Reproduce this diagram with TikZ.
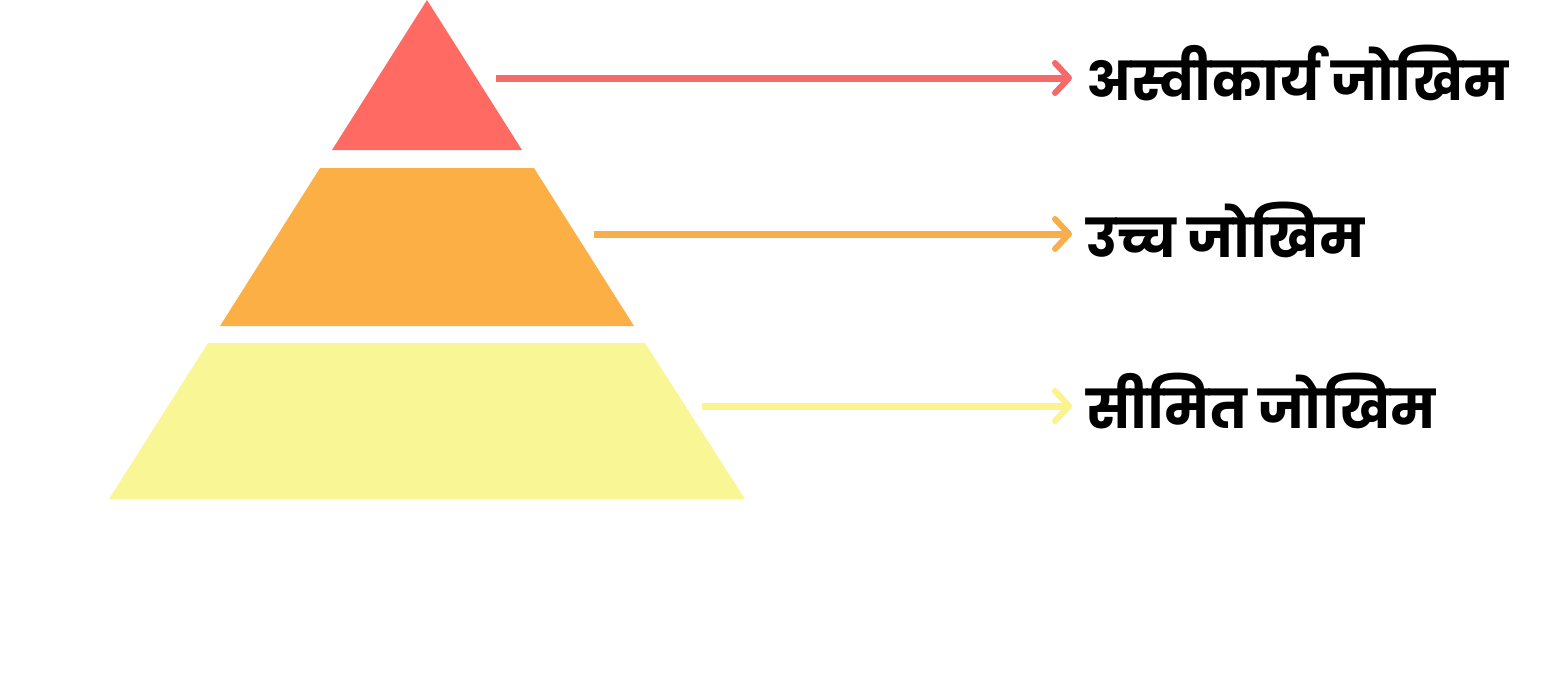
\documentclass[tikz,border=0pt]{standalone}
\usepackage{fontspec}
\newfontfamily\hindi[Script=Devanagari]{Poppins Bold}
\usetikzlibrary{arrows.meta}
\definecolor{cred}{HTML}{FF6A62}
\definecolor{corange}{HTML}{FBAF45}
\definecolor{cyellow}{HTML}{F9F795}
\definecolor{ared}{HTML}{F46A68}
\definecolor{aorange}{HTML}{F8AE4C}
\definecolor{ayellow}{HTML}{FAF38E}
\tikzset{
  conn/.style={line width=7pt, -{Straight Barb[length=14pt,width=30pt,line width=6pt,line cap=round,line join=round]}},
  lbl/.style={anchor=base west, inner sep=0pt, font=\hindi\fontsize{53.5}{60}\selectfont},
}
\begin{document}
\begin{tikzpicture}[x=1pt,y=-1pt]
\useasboundingbox (0,0) rectangle (1541,672);
\fill[white] (0,0) rectangle (1541,672);
\fill[cred] (427,0) -- (522,150) -- (332,150) -- cycle;
\fill[corange] (320,168) -- (534,168) -- (634,326) -- (220,326) -- cycle;
\fill[cyellow] (208,343) -- (645,343) -- (745,499) -- (109,499) -- cycle;
\coordinate (s1) at (496,78);
\coordinate (s2) at (594,234);
\coordinate (s3) at (702,406);
\node[lbl] (t1) at (1086,100) {अस्वीकार्य जोखिम};
\node[lbl] (t2) at (1086,257) {उच्च जोखिम};
\node[lbl] (t3) at (1086,428) {सीमित जोखिम};
\coordinate (e1) at (1072,78);
\coordinate (e2) at (1072,234);
\coordinate (e3) at (1072,406);
\draw[conn, ared] (s1) -- (e1);
\draw[conn, aorange] (s2) -- (e2);
\draw[conn, ayellow] (s3) -- (e3);
\end{tikzpicture}
\end{document}
